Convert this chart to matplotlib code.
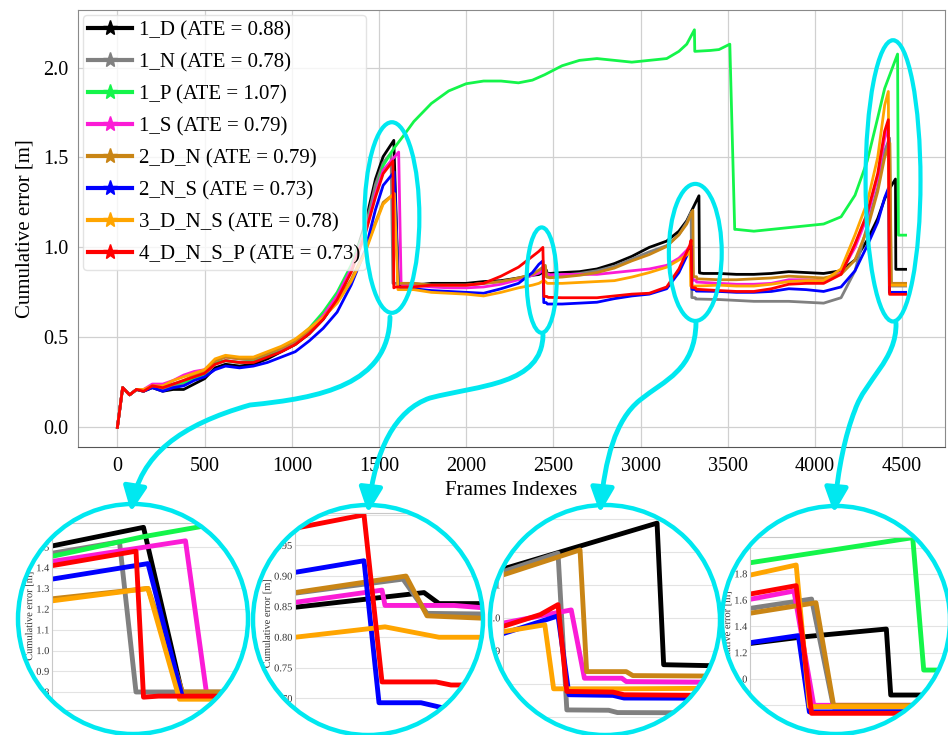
import numpy as np
import matplotlib
matplotlib.use('Agg')
import matplotlib.pyplot as plt
import matplotlib.ticker as mticker
import matplotlib.patheffects as pe
from matplotlib.patches import Ellipse, FancyArrowPatch, ArrowStyle
from matplotlib.path import Path
from matplotlib.lines import Line2D

plt.rcParams['font.family'] = ['Liberation Serif', 'DejaVu Serif']

# series names / ATE values
names = ['1_D', '1_N', '1_P', '1_S', '2_D_N', '2_N_S', '3_D_N_S', '4_D_N_S_P']
ate = [0.88, 0.78, 1.07, 0.79, 0.79, 0.73, 0.78, 0.73]
colors = ['#000000', '#808080', '#14f54a', '#fb1cd6', '#c98515', '#0000ff', '#ffa500', '#ff0000']

# common frame grid (outside the jump windows)
frames = [0, 30, 70, 110, 150, 200, 260,
          320, 380, 440, 500, 560, 620, 700, 780, 860, 940, 1020, 1100, 1180, 1260, 1340, 1420, 1480,
          1700, 1800, 1900, 2000, 2100, 2200, 2300, 2380,
          2550, 2650, 2750, 2850, 2950, 3050, 3150, 3220,
          3450, 3550, 3650, 3750, 3850, 3950, 4050, 4150, 4230, 4300, 4360,
          4520]

err_1d = [0, 0.22, 0.18, 0.21, 0.20, 0.22, 0.20,
          0.21, 0.21, 0.24, 0.27, 0.33, 0.35, 0.34, 0.35, 0.38, 0.42, 0.46, 0.52, 0.60, 0.71, 0.88, 1.13, 1.38,
          0.79, 0.80, 0.80, 0.80, 0.81, 0.815, 0.83, 0.845,
          0.86, 0.865, 0.88, 0.91, 0.95, 1.00, 1.035, 1.09,
          0.855, 0.85, 0.85, 0.855, 0.865, 0.86, 0.855, 0.87, 0.93, 1.04, 1.16,
          0.878]
err_1n = [0, 0.22, 0.18, 0.21, 0.20, 0.23, 0.21,
          0.23, 0.24, 0.27, 0.29, 0.35, 0.37, 0.36, 0.37, 0.40, 0.43, 0.47, 0.53, 0.61, 0.71, 0.87, 1.10, 1.35,
          0.80, 0.79, 0.79, 0.79, 0.80, 0.81, 0.825, 0.845,
          0.845, 0.855, 0.87, 0.895, 0.935, 0.975, 1.01, 1.07,
          0.71, 0.705, 0.70, 0.70, 0.70, 0.695, 0.69, 0.72, 0.87, 1.12, 1.33,
          0.785]
err_1p = [0, 0.22, 0.18, 0.21, 0.20, 0.23, 0.22,
          0.24, 0.25, 0.27, 0.29, 0.36, 0.37, 0.36, 0.37, 0.40, 0.44, 0.48, 0.55, 0.64, 0.75, 0.90, 1.10, 1.30,
          1.70, 1.80, 1.87, 1.91, 1.925, 1.925, 1.915, 1.93,
          2.01, 2.04, 2.05, 2.04, 2.03, 2.04, 2.05, 2.09,
          2.10, 1.10, 1.09, 1.10, 1.11, 1.12, 1.13, 1.17, 1.29, 1.48, 1.72,
          1.068]
err_1s = [0, 0.22, 0.18, 0.21, 0.21, 0.24, 0.24,
          0.26, 0.29, 0.31, 0.32, 0.37, 0.39, 0.38, 0.38, 0.41, 0.44, 0.48, 0.54, 0.62, 0.73, 0.88, 1.08, 1.30,
          0.79, 0.78, 0.775, 0.775, 0.78, 0.795, 0.82, 0.845,
          0.85, 0.85, 0.85, 0.86, 0.87, 0.88, 0.90, 0.94,
          0.80, 0.795, 0.795, 0.80, 0.82, 0.82, 0.815, 0.86, 1.00, 1.17, 1.39,
          0.80]
err_2dn = [0, 0.22, 0.18, 0.21, 0.20, 0.23, 0.22,
           0.24, 0.26, 0.29, 0.31, 0.37, 0.39, 0.38, 0.38, 0.41, 0.44, 0.48, 0.54, 0.61, 0.70, 0.82, 0.98, 1.14,
           0.80, 0.79, 0.79, 0.79, 0.80, 0.81, 0.83, 0.85,
           0.835, 0.845, 0.86, 0.885, 0.925, 0.96, 1.005, 1.07,
           0.82, 0.82, 0.825, 0.83, 0.84, 0.835, 0.83, 0.85, 0.93, 1.10, 1.31,
           0.80]
err_2ns = [0, 0.22, 0.18, 0.21, 0.20, 0.22, 0.20,
           0.22, 0.23, 0.26, 0.28, 0.32, 0.34, 0.33, 0.34, 0.36, 0.39, 0.42, 0.48, 0.55, 0.64, 0.79, 0.98, 1.21,
           0.77, 0.76, 0.755, 0.75, 0.745, 0.77, 0.80, 0.86,
           0.685, 0.69, 0.695, 0.715, 0.73, 0.74, 0.77, 0.86,
           0.755, 0.75, 0.75, 0.755, 0.77, 0.765, 0.755, 0.78, 0.87, 1.01, 1.14,
           0.75]
err_3dns = [0, 0.22, 0.18, 0.21, 0.21, 0.23, 0.23,
            0.26, 0.28, 0.30, 0.32, 0.38, 0.40, 0.39, 0.39, 0.42, 0.45, 0.49, 0.55, 0.61, 0.69, 0.81, 0.97, 1.13,
            0.765, 0.75, 0.745, 0.74, 0.73, 0.75, 0.775, 0.79,
            0.80, 0.805, 0.81, 0.815, 0.835, 0.86, 0.89, 0.93,
            0.79, 0.785, 0.785, 0.795, 0.81, 0.815, 0.815, 0.88, 1.07, 1.25, 1.50,
            0.79]
err_4dnsp = [0, 0.22, 0.18, 0.21, 0.20, 0.23, 0.22,
             0.24, 0.26, 0.28, 0.30, 0.35, 0.37, 0.36, 0.36, 0.39, 0.42, 0.46, 0.52, 0.60, 0.71, 0.86, 1.07, 1.28,
             0.78, 0.79, 0.79, 0.79, 0.80, 0.84, 0.89, 0.95,
             0.72, 0.72, 0.72, 0.73, 0.74, 0.745, 0.78, 0.88,
             0.76, 0.755, 0.755, 0.77, 0.795, 0.80, 0.80, 0.85, 1.02, 1.19, 1.41,
             0.739]

# points around the relocalisation jumps (frame, error)
jumps_1d = [(1524, 1.505), (1585, 1.595), (1611, 0.785), (1640, 0.79),
            (2417, 0.849), (2460, 0.873), (2465, 0.855), (2480, 0.855),
            (3265, 1.148), (3335, 1.287), (3338, 0.858), (3360, 0.855),
            (4400, 1.27), (4424, 1.32), (4462, 1.38), (4464, 0.878)]
jumps_1n = [(1524, 1.47), (1569, 1.525), (1580, 0.80), (1640, 0.80),
            (2417, 0.872), (2453, 0.895), (2461, 0.839), (2480, 0.838),
            (3265, 1.14), (3290, 1.196), (3294, 0.721), (3313, 0.72), (3317, 0.713),
            (4400, 1.537), (4428, 1.608), (4438, 0.785)]
jumps_1p = [(1524, 1.455), (1585, 1.55), (1640, 1.62),
            (2450, 1.96),
            (3265, 2.13), (3309, 2.21), (3311, 2.09), (3400, 2.095), (3512, 2.13), (3540, 1.10),
            (4400, 1.884), (4474, 2.075), (4479, 1.068)]
jumps_1s = [(1524, 1.43), (1613, 1.53), (1627, 0.795), (1640, 0.79),
            (2417, 0.857), (2446, 0.877), (2447, 0.852), (2470, 0.852), (2480, 0.848),
            (3265, 0.984), (3296, 1.024), (3302, 0.817), (3319, 0.817), (3321, 0.807),
            (4400, 1.606), (4420, 1.669), (4429, 0.80)]
jumps_2dn = [(1524, 1.25), (1588, 1.30), (1611, 0.80), (1640, 0.80),
             (2417, 0.873), (2454, 0.90), (2461, 0.835), (2480, 0.831),
             (3265, 1.13), (3300, 1.206), (3303, 0.837), (3321, 0.837), (3324, 0.825),
             (4400, 1.50), (4430, 1.58), (4438, 0.80)]
jumps_2ns = [(1524, 1.345), (1588, 1.42), (1611, 0.772), (1640, 0.77),
             (2417, 0.906), (2440, 0.925), (2445, 0.693), (2459, 0.693), (2466, 0.685), (2480, 0.685),
             (3265, 0.952), (3290, 1.006), (3295, 0.767), (3315, 0.765), (3320, 0.757),
             (4400, 1.276), (4422, 1.33), (4427, 0.75)]
jumps_3dns = [(1524, 1.24), (1588, 1.30), (1609, 0.765), (1640, 0.765),
              (2417, 0.80), (2447, 0.817), (2465, 0.80), (2480, 0.80),
              (3265, 0.958), (3284, 0.979), (3288, 0.785), (3320, 0.785),
              (4400, 1.79), (4421, 1.867), (4427, 0.79)]
jumps_4dnsp = [(1524, 1.41), (1580, 1.48), (1585, 0.775), (1595, 0.78), (1640, 0.78),
               (2417, 0.978), (2440, 1.0), (2446, 0.727), (2464, 0.727), (2469, 0.722), (2480, 0.722),
               (3265, 0.974), (3282, 1.01), (3290, 1.04), (3294, 0.777), (3315, 0.775), (3320, 0.767),
               (4400, 1.646), (4421, 1.71), (4428, 0.739)]

errs = [err_1d, err_1n, err_1p, err_1s, err_2dn, err_2ns, err_3dns, err_4dnsp]
jumps = [jumps_1d, jumps_1n, jumps_1p, jumps_1s, jumps_2dn, jumps_2ns, jumps_3dns, jumps_4dnsp]


def build(vals, extra):
    pts = sorted(list(zip(frames, vals)) + extra, key=lambda p: p[0])
    return np.array([p[0] for p in pts]), np.array([p[1] for p in pts])


series = [build(v, e) for v, e in zip(errs, jumps)]

W, H = 948, 735
cyan = '#00e8f0'


def fx(px):
    return px / W


def fy(py):
    return 1 - py / H


fig = plt.figure(figsize=(W / 100, H / 100), dpi=100)

# main axes
ax = fig.add_axes([fx(78), fy(447), 867 / W, 437 / H])
for (x, y), c in zip(series, colors):
    ax.plot(x, y, color=c, lw=2.0)
ax.set_xlim(-226, 4746)
ax.set_ylim(-0.11, 2.32)
ax.xaxis.set_major_locator(mticker.MultipleLocator(500))
ax.yaxis.set_major_locator(mticker.MultipleLocator(0.5))
ax.yaxis.set_major_formatter(mticker.FormatStrFormatter('%.1f'))
ax.grid(True, color='#d0d0d0', lw=0.9)
ax.set_axisbelow(True)
ax.tick_params(length=0, pad=7, labelsize=14.5)
ax.set_xlabel('Frames Indexes', fontsize=15, labelpad=4)
ax.set_ylabel('Cumulative error [m]', fontsize=15, labelpad=6)
for s in ['left', 'top', 'right']:
    ax.spines[s].set_color('#8a8a8a')
ax.spines['bottom'].set_color('#555555')

handles = [Line2D([], [], color=c, lw=3, marker='*', markersize=11) for c in colors]
labels = [f'{n} (ATE = {a:.2f})' for n, a in zip(names, ate)]
ax.legend(handles, labels, loc='upper left', fontsize=15, handlelength=2.1,
          handletextpad=0.35, labelspacing=0.6, borderpad=0.25, borderaxespad=0.25,
          framealpha=0.8, edgecolor='#dddddd')

# ellipses marking the zoomed regions
for cx, cy, w, h in [(1574, 1.166, 315, 1.06), (2433, 0.818, 172, 0.586),
                     (3314, 0.972, 303, 0.762), (4448, 1.37, 315, 1.564)]:
    ax.add_artist(Ellipse((cx, cy), w, h, fill=False, ec=cyan, lw=3, zorder=10))

# zoomed insets inside circles
insets = [
    ((133, 619, 115), (52, 523, 262, 710), (1524, 1664), (0.713, 1.616), np.arange(0.8, 1.55, 0.1), '%.1f'),
    ((368, 620, 115), (295, 513, 490, 735), (2417, 2482), (0.6403, 1.003), np.arange(0.70, 1.01, 0.05), '%.2f'),
    ((605, 620, 115), (503, 503, 720, 735), (3265, 3363.6), (0.645, 1.348), np.arange(0.7, 1.35, 0.1), '%.1f'),
    ((836, 620, 114), (750, 537, 960, 735), (4400, 4495.5), (0.574, 2.08), np.arange(0.8, 2.05, 0.2), '%.1f'),
]
as_path = [pe.Normal()]  # text drawn as path so that the circle clip applies
for (ccx, ccy, r), (x0, y0, x1, y1), xl, yl, yt, fmt in insets:
    ia = fig.add_axes([fx(x0), fy(y1), (x1 - x0) / W, (y1 - y0) / H])
    for (x, y), c in zip(series, colors):
        ia.plot(x, y, color=c, lw=3.5)
    ia.set_xlim(*xl)
    ia.set_ylim(*yl)
    ia.set_xticks([])
    ia.set_yticks(yt)
    ia.yaxis.set_major_formatter(mticker.FormatStrFormatter(fmt))
    ia.tick_params(length=0, pad=2, labelsize=7.5, labelcolor='#333333')
    ia.yaxis.grid(True, color='#e3e3e3', lw=0.8)
    ia.set_ylabel('Cumulative error [m]', fontsize=7.5, color='#333333', labelpad=1.5)
    for s in ia.spines.values():
        s.set_color('#c8c8c8')
    clip = Ellipse((fx(ccx), fy(ccy)), 2 * (r - 1) / W, 2 * (r - 1) / H, transform=fig.transFigure)
    for art in ia.get_children():
        art.set_clip_path(clip)
    for t in ia.yaxis.get_major_ticks():
        t.label1.set_path_effects(as_path)
        t.label1.set_clip_path(clip)
        t.gridline.set_clip_path(clip)
        t.tick1line.set_clip_path(clip)
    ia.yaxis.label.set_path_effects(as_path)
    ia.yaxis.label.set_clip_path(clip)
    fig.add_artist(Ellipse((fx(ccx), fy(ccy)), 2 * r / W, 2 * r / H, transform=fig.transFigure,
                           fill=False, ec=cyan, lw=3.2, zorder=5))

# connectors from ellipses to circles
connectors = [
    [(390, 317), (389, 385), (320, 398), (250, 405), (180, 425), (140, 455), (131, 512)],
    [(543, 335), (542, 385), (480, 385), (430, 398), (395, 410), (375, 450), (368, 513)],
    [(696, 323), (695, 370), (665, 380), (640, 400), (615, 420), (605, 460), (600, 513)],
    [(896, 323), (897, 360), (865, 380), (855, 410), (845, 435), (838, 470), (834, 513)],
]
for pts in connectors:
    verts = [(fx(px), fy(py)) for px, py in pts]
    codes = [Path.MOVETO] + [Path.CURVE4] * 6
    arr = FancyArrowPatch(path=Path(verts, codes),
                          arrowstyle=ArrowStyle('-|>', head_length=1.5, head_width=0.7),
                          mutation_scale=10, lw=3.5, color=cyan, transform=fig.transFigure, zorder=6)
    fig.add_artist(arr)

fig.savefig('out.png', dpi=100)
